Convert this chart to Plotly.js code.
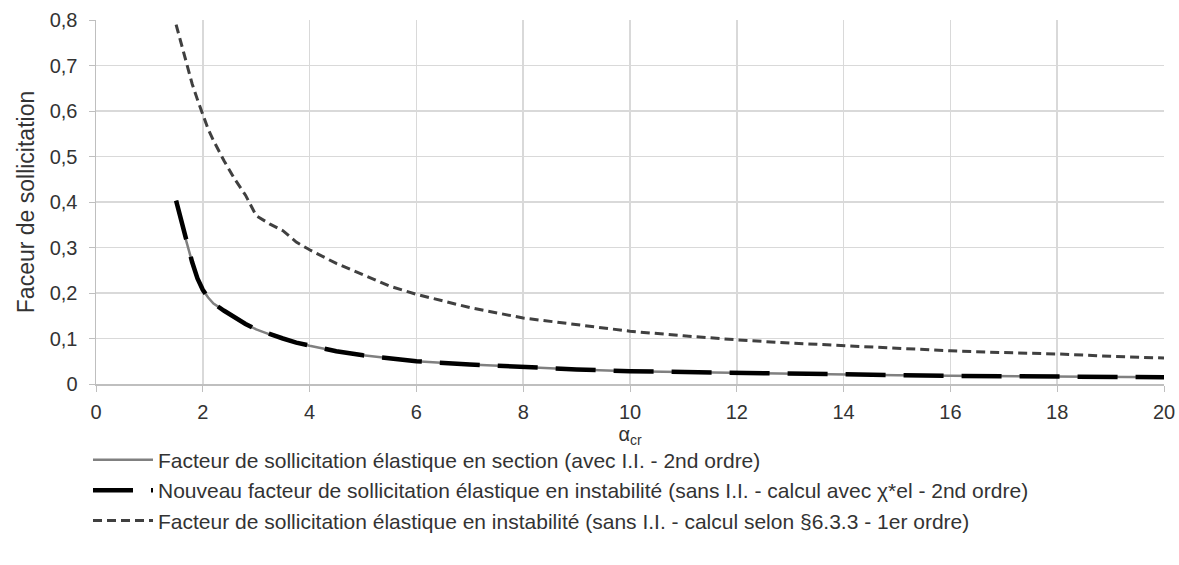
<!DOCTYPE html>
<html>
<head>
<meta charset="utf-8">
<script src="https://cdn.plot.ly/plotly-3.0.1.min.js"></script>
<style>html,body{margin:0;padding:0;background:#fff;}#chart{width:1179px;height:565px;}</style>
</head>
<body>
<div id="chart"></div>
<script>
// alpha_cr values
const alphaCr = [1.5,1.6,1.7,1.8,1.9,2.0,2.1,2.2,2.4,2.6,2.8,3.0,3.25,3.5,3.75,4.0,4.5,5.0,5.5,6.0,7.0,8.0,9.0,10,11,12,13,14,15,16,17,18,19,20];
// Facteur de sollicitation élastique en section (avec I.I. - 2nd ordre)
const sectionII = [0.403,0.355,0.31,0.268,0.232,0.207,0.19,0.177,0.161,0.146,0.132,0.12,0.109,0.1,0.091,0.084,0.072,0.063,0.056,0.05,0.043,0.037,0.032,0.028,0.026,0.024,0.022,0.021,0.019,0.018,0.017,0.016,0.0155,0.015];
// Nouveau facteur (sans I.I. - calcul avec χ*el - 2nd ordre)
const nouveauChi = [0.403,0.355,0.31,0.268,0.232,0.207,0.19,0.177,0.161,0.146,0.132,0.12,0.109,0.1,0.091,0.084,0.072,0.063,0.056,0.05,0.043,0.037,0.032,0.028,0.026,0.024,0.022,0.021,0.019,0.018,0.017,0.016,0.0155,0.015];
// Facteur en instabilité (sans I.I. - §6.3.3 - 1er ordre)
const selon633 = [0.79,0.745,0.70,0.66,0.625,0.59,0.56,0.535,0.49,0.45,0.415,0.37,0.352,0.337,0.312,0.295,0.265,0.24,0.215,0.197,0.168,0.145,0.13,0.116,0.106,0.097,0.09,0.084,0.078,0.073,0.069,0.066,0.061,0.057];

const names = [
  "Facteur de sollicitation élastique en section (avec I.I. - 2nd ordre)",
  "Nouveau facteur de sollicitation élastique en instabilité (sans I.I. - calcul avec χ*el - 2nd ordre)",
  "Facteur de sollicitation élastique en instabilité (sans I.I. - calcul selon §6.3.3 - 1er ordre)"
];

const traces = [
  {x: alphaCr, y: sectionII, name: names[0], mode: 'lines', line: {color: '#808080', width: 2.5}},
  {x: alphaCr, y: nouveauChi, name: names[1], mode: 'lines', line: {color: '#000000', width: 4.5, dash: '40px,18px'}},
  {x: alphaCr, y: selon633, name: names[2], mode: 'lines', line: {color: '#404040', width: 3, dash: '9px,5px'}}
];

const fam = 'Liberation Sans, Arial, sans-serif';
const txt = '#333333';

const layout = {
  width: 1179, height: 565,
  margin: {l: 96, r: 15, t: 20, b: 181},
  paper_bgcolor: '#ffffff', plot_bgcolor: '#ffffff',
  font: {family: fam, size: 20, color: txt},
  separators: ', ',
  showlegend: true,
  legend: {orientation: 'v', x: -0.0075, xanchor: 'left', y: -0.153, yanchor: 'top',
           font: {family: fam, size: 21, color: txt}, itemwidth: 60, traceorder: 'normal'},
  xaxis: {
    range: [0, 20], dtick: 2, tick0: 0, showgrid: true, gridcolor: '#d9d9d9', gridwidth: 1.5,
    showline: true, linecolor: '#bfbfbf', linewidth: 1.5, ticks: 'outside', ticklen: 6, tickcolor: '#bfbfbf',
    zeroline: false, tickfont: {size: 20, color: txt}, ticklabelstandoff: 3,
    title: {text: 'α<sub>cr</sub>', font: {size: 20, color: txt}, standoff: 5}
  },
  yaxis: {
    range: [0, 0.8], dtick: 0.1, tick0: 0, showgrid: true, gridcolor: '#d9d9d9', gridwidth: 1.5,
    showline: true, linecolor: '#bfbfbf', linewidth: 1.5, ticks: 'outside', ticklen: 6, tickcolor: '#bfbfbf',
    zeroline: false, tickfont: {size: 20, color: txt}, ticklabelstandoff: 7,
    title: {text: 'Faceur de sollicitation', font: {size: 23, color: txt}, standoff: 8}
  }
};

Plotly.newPlot('chart', traces, layout, {displayModeBar: false, staticPlot: true});
</script>
</body>
</html>
